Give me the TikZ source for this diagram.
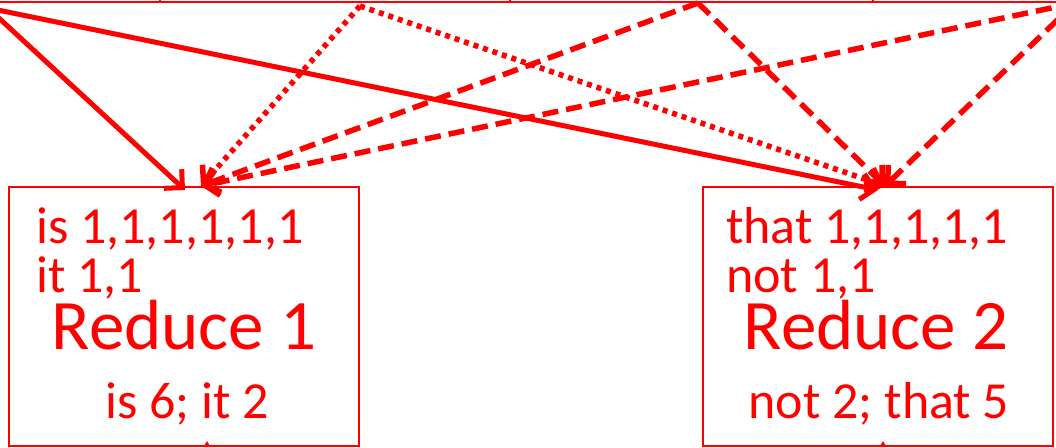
\documentclass[tikz,border=0pt]{standalone}
\usepackage{fontspec}
\setmainfont{Carlito}
\usetikzlibrary{arrows.meta}

\definecolor{mrred}{RGB}{255,0,0}

\tikzset{
  flow/.style={draw=mrred, line width=5pt, -{Straight Barb[length=13pt,width=26pt]}},
  flowdot/.style={flow, line width=5.5pt, dash pattern=on 5pt off 5pt},
  flowdash/.style={flow, line width=5.5pt, dash pattern=on 16pt off 8pt},
  redbox/.style={draw=mrred, line width=1.5pt, minimum width=350pt, minimum height=259pt, inner sep=0pt},
  pairs/.style={text=mrred, font=\fontsize{52}{49}\selectfont, anchor=base west, inner sep=0pt},
  total/.style={text=mrred, font=\fontsize{52}{49}\selectfont, anchor=base, inner sep=0pt},
  title/.style={text=mrred, font=\fontsize{71}{71}\selectfont, anchor=base, inner sep=0pt},
}

\begin{document}
\begin{tikzpicture}[x=1pt, y=-1pt]

  \useasboundingbox (0,0) rectangle (1056,447);
  \clip (0,0) rectangle (1056,447);

  % --- bordo inferiore delle mappe (tagliato) ---
  \draw[mrred, line width=1.5pt] (0,2) -- (1056,2);
  \foreach \x in {160,510,873}
    \draw[mrred, line width=1.5pt] (\x,0) -- (\x,3);

  % --- sorgenti ---
  \coordinate (map1) at (-12,8);
  \coordinate (map2) at (360,6);
  \coordinate (map3) at (698,3);
  \coordinate (map4) at (1075,3);

  % --- reduce 1 ---
  \node[redbox] (red1) at (184,316.5) {};
  \node[pairs] (r1a) at (36,243) {is 1,1,1,1,1,1};
  \node[pairs] (r1b) at (36,292) {it 1,1};
  \node[title] (r1t) at (184,349) {Reduce 1};
  \node[total] (r1s) at (187,418) {is 6; it 2};
  \coordinate (in1a) at (185,190);
  \coordinate (in1b) at (201,186);

  % --- reduce 2 ---
  \node[redbox] (red2) at (878,316.5) {};
  \node[pairs] (r2a) at (726,243) {that 1,1,1,1,1};
  \node[pairs] (r2b) at (726,292) {not 1,1};
  \node[title] (r2t) at (876,349) {Reduce 2};
  \node[total] (r2s) at (879,418) {not 2; that 5};
  \coordinate (in2a) at (878,190);
  \coordinate (in2b) at (885,186);

  % --- frecce map -> reduce ---
  \draw[flow] (map1) -- (in1a);
  \draw[flow] (map1) -- (in2a);
  \draw[flowdot] (map2) -- (in1b);
  \draw[flowdot] (map2) -- (in2b);
  \draw[flowdash] (map3) -- (in1b);
  \draw[flowdash] (map3) -- (in2b);
  \draw[flowdash] (map4) -- (in1b);
  \draw[flowdash] (map4) -- (in2b);

  % --- punte in basso (tagliate) ---
  \fill[mrred] (204,446) -- (207,441) -- (210,446) -- cycle;
  \fill[mrred] (880,446) -- (883,441) -- (886,446) -- cycle;

\end{tikzpicture}
\end{document}
